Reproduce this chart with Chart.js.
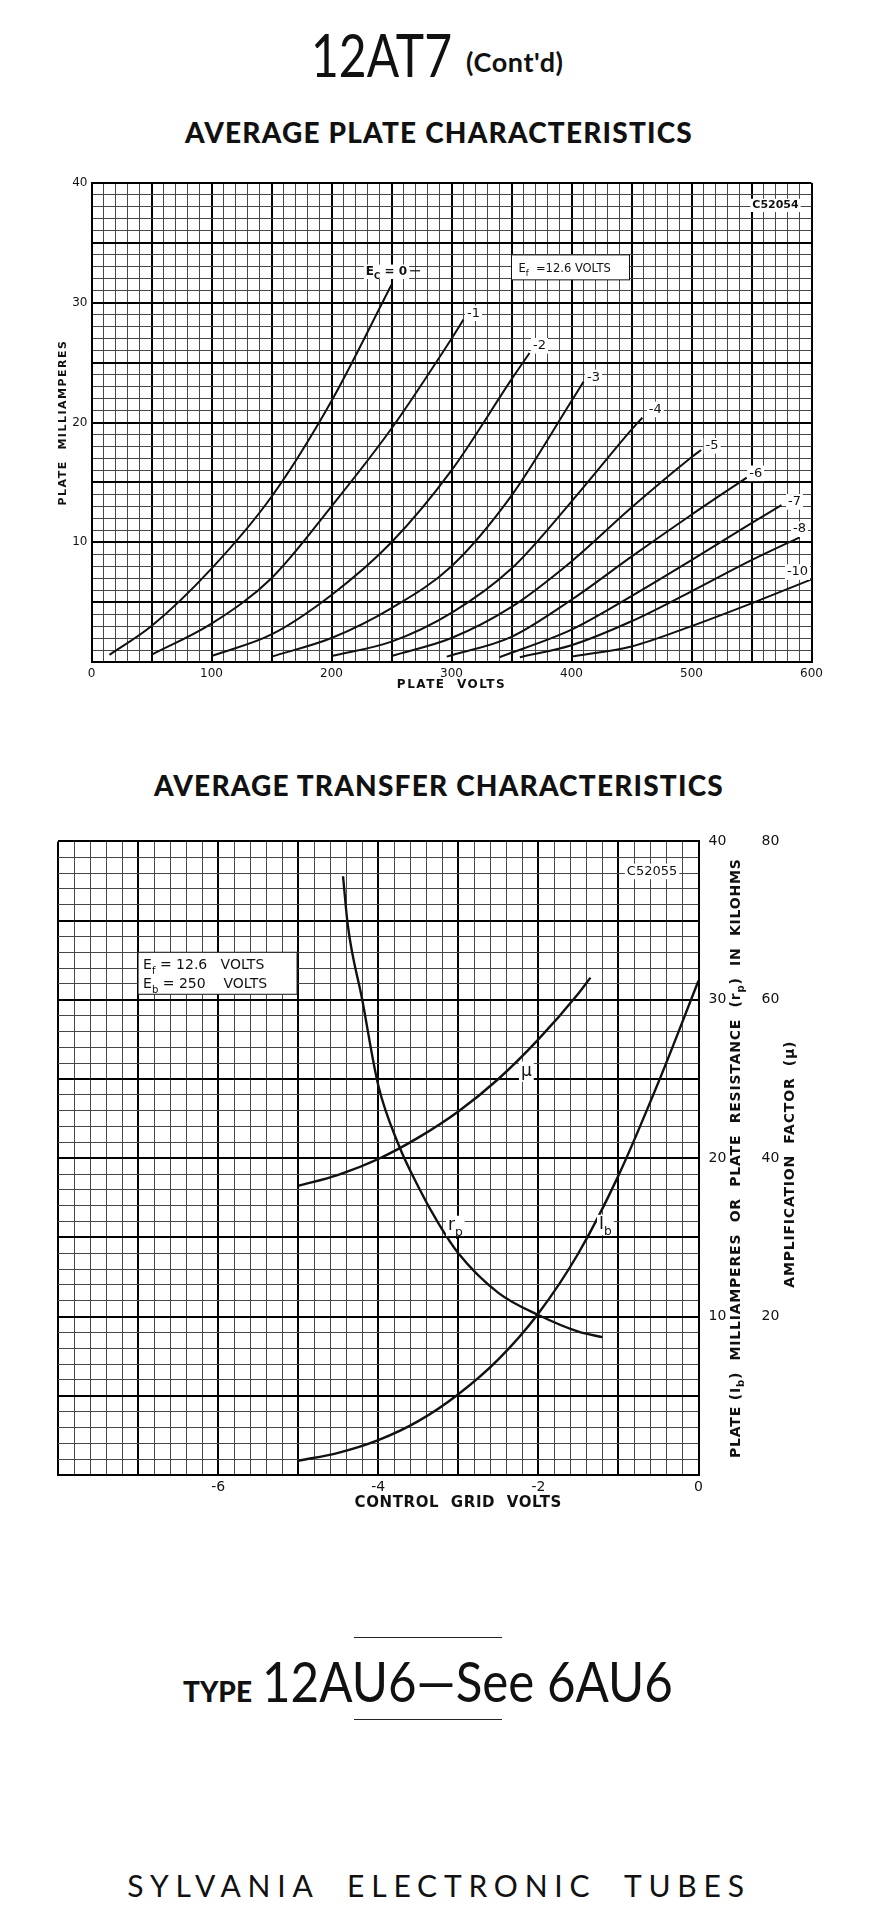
<!DOCTYPE html>
<html>
<head>
<meta charset="utf-8">
<script src="https://cdn.jsdelivr.net/npm/chart.js@4.4.1/dist/chart.umd.min.js"></script>
<style>
  body { margin: 0; background: #fff; }
  #page { position: relative; width: 878px; height: 1913px; overflow: hidden; color: #111; font-family: Lato, "DejaVu Sans", sans-serif; }
  .abs { position: absolute; white-space: nowrap; line-height: 1; }
  .narrow { transform-origin: left top; }
  .rule { position: absolute; left: 354px; width: 148px; height: 0; border-top: 1.5px solid #222; }
  canvas { position: absolute; left: 0; }
</style>
</head>
<body>
<div id="page">
  <div class="abs narrow" style="left:311px; top:24px; font-size:60px; transform:scaleX(0.8)">12AT7</div>
  <div class="abs" style="left:466px; top:48px; font-size:27px; font-weight:700; letter-spacing:0.6px">(Cont'd)</div>
  <div class="abs" style="left:0; width:878px; text-align:center; top:118px; font-size:28px; font-weight:900; letter-spacing:1.2px">AVERAGE PLATE CHARACTERISTICS</div>

  <canvas id="plate" width="878" height="560" style="top:160px"></canvas>

  <div class="abs" style="left:0; width:878px; text-align:center; top:771px; font-size:28px; font-weight:900; letter-spacing:1.2px">AVERAGE TRANSFER CHARACTERISTICS</div>

  <canvas id="transfer" width="878" height="720" style="top:820px"></canvas>

  <div class="rule" style="top:1637px"></div>
  <div class="abs" style="left:183px; top:1677px; font-size:28px; font-weight:900">TYPE</div>
  <div class="abs narrow" style="left:262px; top:1653px; font-size:56px; transform:scaleX(0.88)">12AU6—See 6AU6</div>
  <div class="rule" style="top:1719px"></div>

  <div class="abs" style="left:0; width:878px; text-align:center; top:1870px; font-size:30px; letter-spacing:6.8px; word-spacing:14px">SYLVANIA ELECTRONIC TUBES</div>
</div>

<script>
// Average plate characteristics: [plate volts, plate mA] per grid bias
const biasLabels = ["0", "-1", "-2", "-3", "-4", "-5", "-6", "-7", "-8", "-10"];
const ec0 = [[15, 0.6], [50, 3.0], [100, 7.8], [150, 13.8], [200, 21.8], [250, 31.5]];
const ecM1 = [[50, 0.6], [100, 3.2], [150, 7.0], [200, 13.0], [250, 19.5], [300, 27.0], [310, 28.6]];
const ecM2 = [[100, 0.5], [150, 2.3], [200, 5.6], [250, 10.0], [300, 16.0], [350, 23.6], [365, 25.8]];
const ecM3 = [[150, 0.45], [200, 2.0], [250, 4.5], [300, 8.0], [350, 13.9], [400, 21.8], [410, 23.4]];
const ecM4 = [[200, 0.5], [250, 1.7], [300, 4.1], [350, 7.8], [400, 13.4], [450, 19.4], [459, 20.4]];
const ecM5 = [[250, 0.5], [300, 2.0], [350, 4.6], [400, 8.4], [450, 12.9], [500, 17.1], [508, 17.7]];
const ecM6 = [[296, 0.45], [350, 2.1], [400, 5.2], [450, 8.8], [500, 12.3], [546, 15.4]];
const ecM7 = [[340, 0.4], [400, 2.7], [450, 5.5], [500, 8.5], [550, 11.6], [575, 13.1]];
const ecM8 = [[357, 0.4], [400, 1.4], [450, 3.4], [500, 5.9], [550, 8.5], [590, 10.4]];
const ecM10 = [[400, 0.45], [450, 1.3], [500, 3.0], [550, 4.9], [600, 6.9]];
const plateCurves = [ec0, ecM1, ecM2, ecM3, ecM4, ecM5, ecM6, ecM7, ecM8, ecM10];
const plateVoltTicks = [0, 100, 200, 300, 400, 500, 600];
const plateMaTicks = [10, 20, 30, 40];

// Average transfer characteristics at Eb = 250 V: [grid volts, value]
const plateCurrent = [[-5, 0.9], [-4.5, 1.4], [-4, 2.2], [-3.5, 3.4], [-3, 5.1], [-2.5, 7.3], [-2, 10.2], [-1.5, 14.0], [-1, 18.9], [-0.5, 24.8], [0, 31.2]];
const plateResistance = [[-4.44, 37.8], [-4.38, 34.7], [-4.2, 30.0], [-4, 24.6], [-3.75, 20.9], [-3.5, 18.2], [-3.25, 15.9], [-3, 14.0], [-2.5, 11.5], [-2, 10.1], [-1.5, 9.05], [-1.2, 8.7]];
const ampFactor = [[-5, 36.5], [-4.5, 37.9], [-4, 39.9], [-3.5, 42.6], [-3, 45.9], [-2.5, 50.0], [-2, 55.0], [-1.5, 60.8], [-1.35, 62.8]];
const gridVoltTicks = [-6, -4, -2, 0];
const leftScaleTicks = [10, 20, 30, 40];
const muScaleTicks = [20, 40, 60, 80];

// label placement (pixels from the last point of each curve)
const plateLabelShift = [[-5, -15], [10, -8], [10, -9], [10, -6], [13, -10], [11, -6], [9, -6], [13, -5], [0, -10], [-14, -9]];

const FONT = '"DejaVu Sans"';
const near = (a, b) => Math.abs(a - b) < 1e-6;

function drawRich(ctx, parts, x, y, size, bold, align) {
  const f = (s) => (bold ? "bold " : "") + s + "px " + FONT;
  const widths = parts.map(([t, sub]) => {
    ctx.font = f(sub ? size * 0.72 : size);
    return ctx.measureText(t).width;
  });
  const w = widths.reduce((s, v) => s + v, 0);
  let cx = align === "center" ? x - w / 2 : align === "right" ? x - w : x;
  parts.forEach(([t, sub], i) => {
    ctx.font = f(sub ? size * 0.72 : size);
    ctx.fillText(t, cx, sub ? y + size * 0.32 : y);
    cx += widths[i];
  });
  return w;
}

function labelBox(ctx, parts, x, y, size, bold) {
  ctx.save();
  const f = (s) => (bold ? "bold " : "") + s + "px " + FONT;
  let w = 0;
  parts.forEach(([t, sub]) => { ctx.font = f(sub ? size * 0.72 : size); w += ctx.measureText(t).width; });
  ctx.fillStyle = "#fff";
  ctx.fillRect(x - w / 2 - 2, y - size * 0.85, w + 4, size * 1.2);
  ctx.fillStyle = "#111";
  drawRich(ctx, parts, x, y, size, bold, "center");
  ctx.restore();
  return w;
}

function spacedTitle(ctx, parts, x, y, size, spacing, rotate) {
  ctx.save();
  ctx.translate(x, y);
  if (rotate) ctx.rotate(-Math.PI / 2);
  ctx.letterSpacing = spacing + "px";
  ctx.fillStyle = "#111";
  ctx.textBaseline = "middle";
  drawRich(ctx, parts, 0, 0, size, true, "center");
  ctx.restore();
}

function line(points) {
  return {
    data: points.map(([x, y]) => ({ x, y })),
    showLine: true,
    borderColor: "#111",
    borderWidth: 2,
    pointRadius: 0,
    cubicInterpolationMode: "monotone",
    fill: false,
  };
}

const gridStyle = (isMajor) => ({
  color: (c) => (c.tick && isMajor(c.tick.value) ? "#000" : "#474747"),
  lineWidth: (c) => (c.tick && isMajor(c.tick.value) ? 2 : 1),
  drawTicks: false,
});

// ---------- plate characteristics ----------
const plateNotes = {
  id: "plateNotes",
  afterDatasetsDraw(chart) {
    const { ctx, chartArea: a, scales: { x, y } } = chart;
    ctx.save();
    ctx.textBaseline = "alphabetic";
    chart.data.datasets.forEach((ds, i) => {
      const pts = chart.getDatasetMeta(i).data;
      const end = pts[pts.length - 1];
      const [dx, dy] = plateLabelShift[i];
      const lx = end.x + dx, ly = end.y + dy + 5;
      if (i === 0) {
        const w = labelBox(ctx, [["E"], ["C", true], [" = 0"]], lx, ly, 12, true);
        ctx.strokeStyle = "#111";
        ctx.lineWidth = 1.2;
        ctx.beginPath();
        ctx.moveTo(lx + w / 2 + 3, ly - 4);
        ctx.lineTo(lx + w / 2 + 13, ly - 4);
        ctx.stroke();
      } else {
        labelBox(ctx, [[biasLabels[i]]], lx, ly, 13, false);
      }
    });

    // heater note
    const bx = x.getPixelForValue(350), by = y.getPixelForValue(34);
    ctx.fillStyle = "#fff";
    ctx.fillRect(bx, by, 118, 25);
    ctx.strokeStyle = "#111";
    ctx.lineWidth = 1;
    ctx.strokeRect(bx, by, 118, 25);
    ctx.fillStyle = "#111";
    drawRich(ctx, [["E"], ["f", true], ["  =12.6 VOLTS"]], bx + 7, by + 17, 11.5, false, "left");

    labelBox(ctx, [["C52054"]], x.getPixelForValue(570), y.getPixelForValue(37.9), 11, true);

    spacedTitle(ctx, [["PLATE  MILLIAMPERES"]], a.left - 28, (a.top + a.bottom) / 2, 11, 1.5, true);
    spacedTitle(ctx, [["PLATE  VOLTS"]], (a.left + a.right) / 2, a.bottom + 23, 12, 1.5, false);
    ctx.restore();
  },
};

new Chart(document.getElementById("plate"), {
  type: "scatter",
  data: { datasets: plateCurves.map((c) => line(c)) },
  options: {
    responsive: false,
    animation: false,
    layout: { padding: { top: 23, right: 66.5, left: 56, bottom: 0 } },
    plugins: { legend: { display: false }, tooltip: { enabled: false } },
    scales: {
      x: {
        type: "linear", min: 0, max: 600,
        afterFit: (s) => { s.height = 58; },
        ticks: {
          stepSize: 10, autoSkip: false, maxRotation: 0, padding: 5,
          color: "#111", font: { family: "DejaVu Sans", size: 12 },
          callback: (v) => (plateVoltTicks.includes(v) ? v : ""),
        },
        grid: gridStyle((v) => v % 50 === 0),
        border: { display: true, color: "#000", width: 2 },
      },
      y: {
        type: "linear", min: 0, max: 40,
        afterFit: (s) => { s.width = 35.5; },
        ticks: {
          stepSize: 1, autoSkip: false, padding: 4,
          color: "#111", font: { family: "DejaVu Sans", size: 12 },
          callback: (v) => (plateMaTicks.includes(v) ? v : ""),
        },
        grid: gridStyle((v) => v % 5 === 0),
        border: { display: true, color: "#000", width: 2 },
      },
    },
  },
  plugins: [plateNotes],
});

// ---------- transfer characteristics ----------
const transferNotes = {
  id: "transferNotes",
  afterDatasetsDraw(chart) {
    const { ctx, chartArea: a, scales: { x, y } } = chart;
    ctx.save();
    ctx.textBaseline = "alphabetic";
    const at = (ds, idx) => chart.getDatasetMeta(ds).data[idx];

    const ib = at(0, 7);
    labelBox(ctx, [["I"], ["b", true]], ib.x + 27, ib.y - 24, 17, false);
    const rp = at(1, 6);
    labelBox(ctx, [["r"], ["p", true]], rp.x + 17, rp.y + 7, 17, false);
    const mu = at(2, 5);
    labelBox(ctx, [["μ"]], mu.x + 28, mu.y - 3, 17, false);

    // bias note
    const bx = x.getPixelForValue(-7.0), by = y.getPixelForValue(33.0);
    ctx.fillStyle = "#fff";
    ctx.fillRect(bx, by, 159, 42);
    ctx.strokeStyle = "#111";
    ctx.lineWidth = 1;
    ctx.strokeRect(bx, by, 159, 42);
    ctx.fillStyle = "#111";
    drawRich(ctx, [["E"], ["f", true], [" = 12.6   VOLTS"]], bx + 5, by + 17, 14, false, "left");
    drawRich(ctx, [["E"], ["b", true], [" = 250    VOLTS"]], bx + 5, by + 36, 14, false, "left");

    labelBox(ctx, [["C52055"]], x.getPixelForValue(-0.58), y.getPixelForValue(37.9), 13, false);

    spacedTitle(ctx, [["CONTROL  GRID  VOLTS"]], x.getPixelForValue(-3), a.bottom + 28, 15, 0.6, false);
    const midY = (a.top + a.bottom) / 2;
    spacedTitle(ctx, [["PLATE (I"], ["b", true], [")  MILLIAMPERES  OR  PLATE  RESISTANCE  (r"], ["p", true], [")  IN  KILOHMS"]],
      a.right + 38, midY, 14, 0.8, true);
    spacedTitle(ctx, [["AMPLIFICATION  FACTOR  (μ)"]], a.right + 92, midY + 6, 14, 0.8, true);
    ctx.restore();
  },
};

new Chart(document.getElementById("transfer"), {
  type: "scatter",
  data: {
    datasets: [
      Object.assign(line(plateCurrent), { yAxisID: "y", borderWidth: 2.4 }),
      Object.assign(line(plateResistance), { yAxisID: "y", borderWidth: 2.4 }),
      Object.assign(line(ampFactor), { yAxisID: "y2", borderWidth: 2.4 }),
    ],
  },
  options: {
    responsive: false,
    animation: false,
    layout: { padding: { top: 15, right: 0, left: 58, bottom: 0 } },
    plugins: { legend: { display: false }, tooltip: { enabled: false } },
    scales: {
      x: {
        type: "linear", min: -8, max: 0,
        afterFit: (s) => { s.height = 65; },
        ticks: {
          stepSize: 0.2, autoSkip: false, maxRotation: 0, padding: 4,
          color: "#111", font: { family: "DejaVu Sans", size: 14 },
          callback: (v) => (gridVoltTicks.some((t) => near(t, v)) ? Math.round(v) : ""),
        },
        grid: gridStyle((v) => near(v, Math.round(v))),
        border: { display: true, color: "#000", width: 2 },
      },
      y: {
        type: "linear", position: "right", min: 0, max: 40, weight: 0,
        afterFit: (s) => { s.width = 50; },
        ticks: {
          stepSize: 1, autoSkip: false, padding: 10,
          color: "#111", font: { family: "DejaVu Sans", size: 14 },
          callback: (v) => (leftScaleTicks.includes(v) ? v : ""),
        },
        grid: gridStyle((v) => v % 5 === 0),
        border: { display: true, color: "#000", width: 2 },
      },
      y2: {
        type: "linear", position: "right", min: 0, max: 80, weight: 1,
        afterFit: (s) => { s.width = 129.5; },
        ticks: {
          stepSize: 20, autoSkip: false, padding: 13,
          color: "#111", font: { family: "DejaVu Sans", size: 14 },
          callback: (v) => (muScaleTicks.includes(v) ? v : ""),
        },
        grid: { display: false, drawTicks: false },
        border: { display: false },
      },
    },
  },
  plugins: [transferNotes],
});
</script>
</body>
</html>
